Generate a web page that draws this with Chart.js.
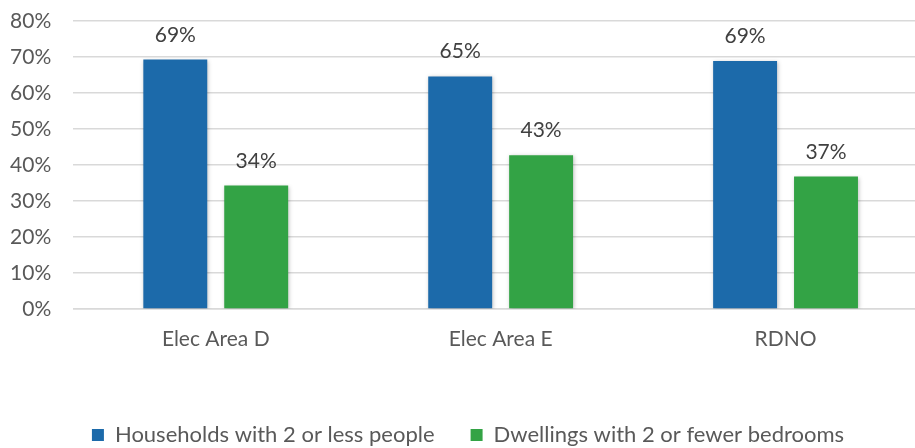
<!DOCTYPE html>
<html>
<head>
<meta charset="utf-8">
<script src="https://cdn.jsdelivr.net/npm/chart.js@4"></script>
<style>
html,body{margin:0;padding:0;background:#fff;overflow:hidden;width:915px;height:448px;}
#wrap{position:relative;width:943px;height:456px;}
</style>
</head>
<body>
<div id="wrap"><canvas id="c" width="943" height="456"></canvas></div>
<script>
const categories = ["Elec Area D", "Elec Area E", "RDNO"];
const householdsSmall = [69.3, 64.6, 68.9];
const dwellingsSmall = [34.3, 42.7, 36.8];
const seriesNames = ["Households with 2 or less people", "Dwellings with 2 or fewer bedrooms"];
const yTicks = [0, 10, 20, 30, 40, 50, 60, 70, 80];

const FONT = "Lato, 'Liberation Sans', sans-serif";

const valueLabels = {
  id: 'valueLabels',
  afterDatasetsDraw(chart) {
    const ctx = chart.ctx;
    ctx.save();
    ctx.font = "21px " + FONT;
    ctx.fillStyle = '#404040';
    ctx.textAlign = 'center';
    ctx.textBaseline = 'alphabetic';
    chart.data.datasets.forEach((ds, i) => {
      chart.getDatasetMeta(i).data.forEach((bar, j) => {
        ctx.fillText(Math.round(ds.data[j]) + '%', bar.x, bar.y - 18);
      });
    });
    ctx.restore();
  }
};

const barShadow = {
  id: 'barShadow',
  beforeDatasetsDraw(chart) {
    const ctx = chart.ctx;
    ctx.save();
    ctx.shadowColor = 'rgba(0,0,0,0.25)';
    ctx.shadowBlur = 4;
    ctx.shadowOffsetX = 1;
    ctx.shadowOffsetY = 1;
  },
  afterDatasetsDraw(chart) {
    chart.ctx.restore();
  }
};

new Chart(document.getElementById('c'), {
  type: 'bar',
  data: {
    labels: categories,
    datasets: [
      { label: seriesNames[0], data: householdsSmall, backgroundColor: '#1c6aaa', barPercentage: 0.79, categoryPercentage: 0.568 },
      { label: seriesNames[1], data: dwellingsSmall, backgroundColor: '#33a345', barPercentage: 0.79, categoryPercentage: 0.568 }
    ]
  },
  options: {
    responsive: false,
    animation: false,
    devicePixelRatio: 1,
    layout: { padding: { top: 21, right: 15, left: 8, bottom: 0 } },
    plugins: {
      tooltip: { enabled: false },
      legend: {
        position: 'bottom',
        labels: {
          font: { family: FONT, size: 22 },
          color: '#595959',
          boxWidth: 12,
          boxHeight: 12,
          padding: 36
        }
      }
    },
    scales: {
      x: {
        grid: { display: false, drawTicks: false },
        border: { display: true, color: '#d9d9d9', width: 1.5 },
        ticks: { font: { family: FONT, size: 21 }, color: '#595959', padding: 18 },
        afterFit(s) { s.height = 79; }
      },
      y: {
        min: 0, max: 80,
        afterBuildTicks(s) { s.ticks = yTicks.map(v => ({ value: v })); },
        grid: { color: '#d9d9d9', lineWidth: 1.5, drawTicks: false },
        border: { display: false },
        ticks: { font: { family: FONT, size: 21 }, color: '#595959', padding: 22, callback: v => v + '%' },
        afterFit(s) { s.width = 65.3; s.paddingTop = 0; s.paddingBottom = 0; }
      }
    }
  },
  plugins: [barShadow, valueLabels]
});
</script>
</body>
</html>
